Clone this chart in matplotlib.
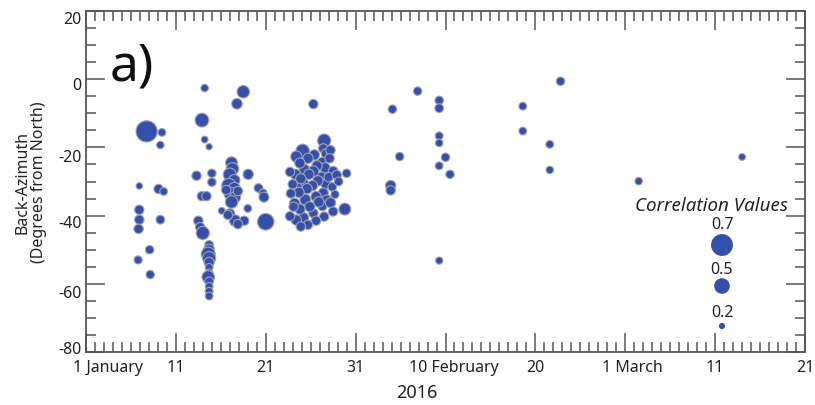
import matplotlib
matplotlib.use("Agg")
import matplotlib.pyplot as plt
from matplotlib.ticker import MultipleLocator, FixedLocator
from matplotlib.transforms import ScaledTranslation
import numpy as np

plt.rcParams['font.family'] = ['Noto Sans', 'DejaVu Sans']

# days since 1 January 2016 (0 = 1 January)
day_jan6 = [6.75, 8.45, 8.27, 5.93, 8.08, 8.64, 5.93, 5.93, 5.85, 8.27, 7.08, 5.8, 7.15]
baz_jan6 = [-15.3, -15.6, -19.3, -31.3, -32.2, -32.9, -38.3, -41.2, -43.9, -41.2, -50.0, -53.0, -57.3]
cor_jan6 = [0.68, 0.25, 0.24, 0.21, 0.3, 0.25, 0.3, 0.3, 0.3, 0.28, 0.27, 0.26, 0.27]

day_jan13 = [13.2, 12.9, 13.2, 13.7, 12.3, 14.0, 14.0, 12.9, 13.4, 12.5, 12.7, 13.0,
             13.7, 13.7, 13.6, 13.7, 13.7, 13.7, 13.7, 13.6, 13.7, 13.7, 13.7, 13.7]
baz_jan13 = [-2.6, -12.0, -17.7, -19.8, -28.3, -27.6, -30.2, -34.3, -34.3, -41.5, -43.4, -45.1,
             -48.6, -50.0, -51.3, -52.5, -53.7, -55.2, -56.8, -58.0, -59.3, -60.8, -62.2, -63.6]
cor_jan13 = [0.24, 0.44, 0.22, 0.2, 0.3, 0.27, 0.27, 0.3, 0.3, 0.3, 0.3, 0.42,
             0.28, 0.35, 0.45, 0.42, 0.32, 0.25, 0.25, 0.4, 0.28, 0.25, 0.25, 0.25]

day_jan16 = [17.5, 16.8, 16.2, 16.3, 16.0, 16.5, 15.9, 16.5, 16.1, 16.6, 16.2, 15.6, 16.9,
             18.05, 19.2, 19.7, 19.8, 18.0, 20.0, 15.1, 16.0, 16.6, 17.6, 16.9, 15.8]
baz_jan16 = [-3.7, -7.2, -24.5, -26.3, -28.0, -29.6, -31.2, -32.0, -33.6, -34.6, -36.0, -32.5, -32.8,
             -27.9, -31.9, -33.4, -34.6, -37.9, -41.8, -38.6, -39.5, -41.5, -41.5, -42.5, -39.8]
cor_jan16 = [0.4, 0.34, 0.38, 0.4, 0.42, 0.36, 0.46, 0.38, 0.42, 0.35, 0.4, 0.3, 0.3,
             0.33, 0.28, 0.26, 0.32, 0.25, 0.53, 0.22, 0.33, 0.37, 0.3, 0.3, 0.3]

day_jan25 = [26.5, 26.4, 26.7, 26.3, 26.6, 26.2, 26.7, 26.4, 26.8, 26.3, 26.5,
             25.4, 25.7, 25.3, 25.8, 25.2, 25.6, 25.9, 25.3, 25.6,
             24.1, 24.7, 24.3, 24.8, 24.2, 24.6, 24.4, 24.9, 24.2, 24.7,
             23.4, 23.8, 23.3, 23.9, 23.5, 23.7, 23.2, 23.8, 23.4, 23.9,
             22.7, 23.0, 22.8, 23.1, 22.7,
             27.2, 27.1, 27.5, 27.0, 27.4, 27.2, 27.5,
             27.9, 28.1, 27.7,
             25.3, 29.0, 28.8]
baz_jan25 = [-18.0, -20.3, -21.8, -24.4, -26.0, -28.8, -30.7, -33.4, -35.6, -37.2, -40.3,
             -22.2, -25.4, -27.0, -29.8, -31.2, -34.4, -36.0, -39.3, -41.5,
             -21.0, -23.2, -26.4, -27.9, -30.6, -32.1, -35.3, -37.4, -40.6, -42.7,
             -22.7, -24.6, -27.9, -29.2, -31.9, -33.2, -36.4, -38.1, -41.3, -43.2,
             -27.2, -30.8, -33.5, -37.4, -40.2,
             -20.8, -23.2, -26.9, -28.7, -31.6, -36.2, -38.8,
             -28.1, -30.0, -33.8,
             -7.3, -27.6, -38.1]
cor_jan25 = [0.42, 0.3, 0.3, 0.33, 0.33, 0.35, 0.33, 0.33, 0.36, 0.3, 0.3,
             0.33, 0.33, 0.35, 0.33, 0.33, 0.33, 0.33, 0.3, 0.3,
             0.43, 0.33, 0.33, 0.33, 0.33, 0.33, 0.35, 0.33, 0.33, 0.3,
             0.36, 0.33, 0.33, 0.33, 0.33, 0.33, 0.33, 0.33, 0.33, 0.3,
             0.3, 0.3, 0.3, 0.3, 0.3,
             0.3, 0.3, 0.3, 0.3, 0.28, 0.33, 0.3,
             0.3, 0.28, 0.26,
             0.3, 0.27, 0.38]

day_late = [34.1, 36.9, 39.3, 39.3, 39.3, 39.3, 34.9, 40.0, 39.3, 40.5, 33.9, 33.9, 39.3,
            52.8, 48.6, 48.6, 51.6, 51.6, 61.5, 73.0]
baz_late = [-8.8, -3.5, -6.2, -8.5, -16.6, -18.7, -22.7, -22.9, -25.4, -27.9, -31.2, -32.6, -53.2,
            -0.6, -7.9, -15.2, -19.1, -26.6, -29.9, -22.8]
cor_late = [0.27, 0.27, 0.27, 0.28, 0.25, 0.24, 0.27, 0.27, 0.25, 0.27, 0.33, 0.3, 0.23,
            0.27, 0.25, 0.25, 0.25, 0.24, 0.24, 0.22]

legend_values = [0.7, 0.5, 0.2]

xtick_pos = [0, 10, 20, 30, 40, 50, 60, 70, 80]
xtick_labels = ["1 January", "11", "21", "31", "10 February", "20", "1 March", "11", "21"]
ytick_pos = [20, 0, -20, -40, -60, -80]
ytick_labels = ["20", "0", "-20", "-40", "-60", "-80"]

blue = '#3550aa'
edge = '#a3a3ad'
axc = '#555555'
txt = '#222222'


def size(c):
    return (np.asarray(c) * 22.5) ** 2


fig = plt.figure(figsize=(8.15, 4.06), dpi=100)
ax = fig.add_axes([86 / 815, 1 - 353 / 406, (805 - 86) / 815, (353 - 12) / 406])

for d, b, c in [(day_jan6, baz_jan6, cor_jan6), (day_jan13, baz_jan13, cor_jan13),
                (day_jan16, baz_jan16, cor_jan16), (day_jan25, baz_jan25, cor_jan25),
                (day_late, baz_late, cor_late)]:
    ax.scatter(d, b, s=size(c), c=blue, edgecolors=edge, linewidths=0.8, zorder=3)

ax.set_xlim(0, 80)
ax.set_ylim(-80, 20)

ax.xaxis.set_major_locator(FixedLocator(xtick_pos))
ax.set_xticklabels(xtick_labels)
ax.xaxis.set_minor_locator(MultipleLocator(1))
ax.set_yticks(ytick_pos)
ax.set_yticklabels(ytick_labels)
ax.yaxis.set_minor_locator(MultipleLocator(5))

ax.tick_params(which='both', direction='in', top=True, right=True, color=axc, width=1.1,
               labelsize=11.5, labelcolor=txt)
ax.tick_params(which='major', length=14, pad=3)
ax.tick_params(axis='x', which='major', pad=5)
ax.tick_params(which='minor', length=7)
for s in ax.spines.values():
    s.set_color(axc)
    s.set_linewidth(1.3)

offsets = {"1 January": 22, "10 February": 8, "1 March": 7}
for lab in ax.get_xticklabels():
    t = lab.get_text()
    if t in offsets:
        lab.set_transform(lab.get_transform() + ScaledTranslation(offsets[t] / 100, 0, fig.dpi_scale_trans))

# vertical shifts of y tick labels (px, positive = downwards) as in the reference
yoff = {"20": 6, "0": 4, "-20": 8, "-40": 5, "-60": 7, "-80": -5}
for lab in ax.get_yticklabels():
    t = lab.get_text()
    if t in yoff:
        lab.set_transform(lab.get_transform() + ScaledTranslation(0, -yoff[t] / 100, fig.dpi_scale_trans))

ax.set_ylabel("Back-Azimuth\n(Degrees from North)", fontsize=11.5, color=txt, labelpad=8,
              linespacing=1.05)
fig.text(417 / 815, 1 - 393 / 406, "2016", fontsize=13, color=txt, ha='center', va='center')

ax.text(24 / 719, 1 - 55 / 341, "a)", transform=ax.transAxes, fontsize=37, va='center', ha='left',
        color='#111111')

# legend
ax.text((711 - 86) / 719, 1 - (206 - 12) / 341, "Correlation Values", transform=ax.transAxes,
        fontsize=13.5, fontstyle='italic', fontweight='bold', ha='center', va='center', color=txt)
leg_y_lab = [225, 270, 313]
leg_y_dot = [246, 287, 327]
for v, yl, yd in zip(legend_values, leg_y_lab, leg_y_dot):
    ax.text((722 - 86) / 719, 1 - (yl - 12) / 341, f"{v}", transform=ax.transAxes, fontsize=11.5,
            ha='center', va='center', color=txt)
    ax.scatter([(722 - 86) / 719], [1 - (yd - 12) / 341], s=size([v]), c=blue, edgecolors='none',
               transform=ax.transAxes, zorder=4, clip_on=False)

fig.savefig("out.png", dpi=100)
